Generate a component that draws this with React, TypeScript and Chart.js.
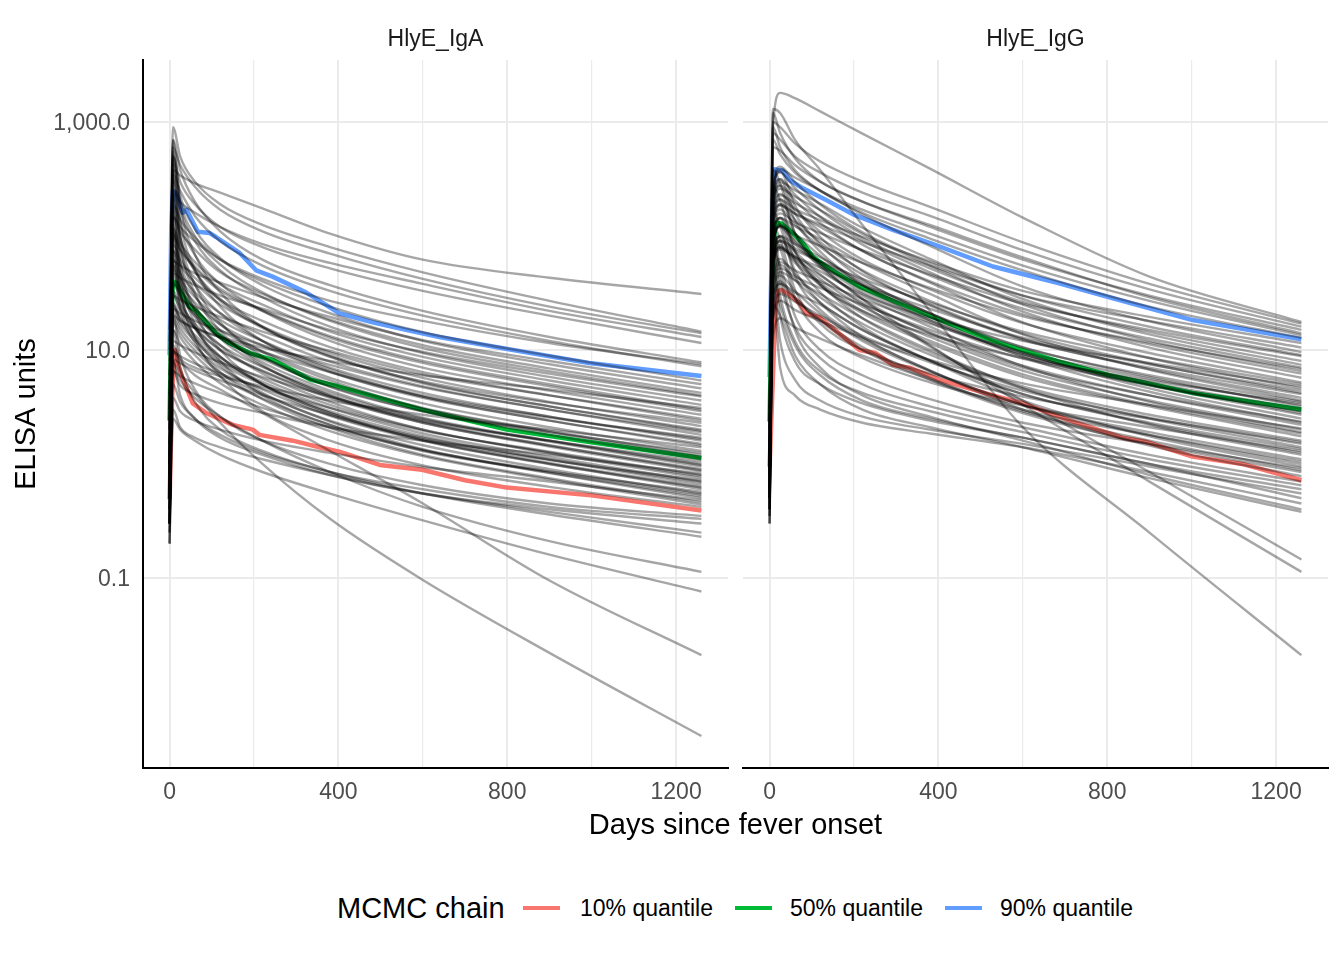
import React, { useEffect, useRef } from 'react';
import { Chart, registerables } from 'chart.js';

Chart.register(...registerables);

const FONT = '"Liberation Sans", Arial, Helvetica, sans-serif';

const PANELS = ['HlyE_IgA', 'HlyE_IgG'];
const LEGEND_TITLE = 'MCMC chain';
const QUANTILE_LABELS = ['10% quantile', '50% quantile', '90% quantile'];
const QUANTILE_COLORS = ['#F8766D', '#00BA38', '#619CFF'];

const X_BREAKS = [0, 200, 400, 600, 800, 1000, 1200];
const X_LABELLED = [0, 400, 800, 1200];
const Y_TICKS = [0.1, 10, 1000];
const Y_TICK_LABELS = ['0.1', '10.0', '1,000.0'];

const GRID_DAYS = [0, 8, 25, 60, 120, 220, 380, 600, 900, 1260];

// HlyE_IgA sample curves (values at GRID_DAYS)
const IGA_CURVES = [
  [0.8, 380, 340, 290, 240, 175, 105, 62, 43, 31],
  [1.5, 900, 500, 300, 190, 125, 80, 48, 27, 14.5],
  [0.6, 600, 420, 270, 170, 110, 70, 42, 24, 14],
  [2, 250, 200, 160, 120, 85, 58, 38, 22, 13],
  [1, 500, 300, 190, 120, 80, 52, 33, 20, 11.5],
  [3, 700, 380, 200, 110, 62, 37, 22, 13, 7.8],
  [0.5, 150, 120, 90, 62, 42, 27, 18, 11.5, 7.5],
  [1.2, 350, 250, 150, 90, 55, 33, 20, 12, 7.2],
  [2, 189, 140, 97, 62, 40, 24, 14.3, 8.9, 5.4],
  [1, 60, 55, 47, 39, 29, 19.5, 12.2, 8, 5],
  [0.8, 550, 230, 115, 64, 37, 21, 12, 7.5, 4.6],
  [3, 147, 109, 76, 48, 31, 18.5, 11, 6.9, 4.2],
  [1, 480, 200, 100, 56, 32, 18, 10.4, 6.5, 4.0],
  [6, 47, 43, 37, 30, 23, 15, 9.6, 6.2, 3.9],
  [1.5, 430, 180, 90, 50, 29, 16, 9.4, 5.8, 3.6],
  [0.6, 115, 86, 59, 38, 25, 14.5, 8.7, 5.4, 3.3],
  [0.3, 25, 18.6, 15.5, 13, 10.5, 8, 6, 4.5, 3.1],
  [2.5, 105, 78, 54, 34.5, 22.5, 13.2, 8, 5, 3.0],
  [5, 100, 75, 52, 33, 22, 12.8, 7.7, 4.8, 2.9],
  [12, 325, 135, 68, 38, 22, 12, 7, 4.4, 2.7],
  [0.5, 30, 27.5, 24, 19.5, 14.5, 9.8, 6.1, 4, 2.5],
  [0.8, 84, 62, 43, 27.6, 18, 10.6, 6.4, 4, 2.4],
  [2, 690, 184, 69, 32, 16, 8.7, 5.3, 3.45, 2.3],
  [0.7, 75, 56, 39, 25, 16, 9.5, 5.7, 3.5, 2.15],
  [4, 240, 100, 50, 28, 16, 9, 5.2, 3.2, 2],
  [1.5, 234, 98, 49, 27, 15.6, 8.8, 5.1, 3.2, 1.95],
  [0.3, 23, 21, 18, 14.8, 11, 7.4, 4.7, 3, 1.9],
  [10, 63, 47, 32, 21, 13.5, 7.9, 4.8, 3, 1.8],
  [0.5, 510, 136, 51, 24, 12, 6.5, 3.9, 2.55, 1.7],
  [0.4, 20, 18, 15.7, 12.9, 9.6, 6.4, 4, 2.6, 1.65],
  [1, 56, 42, 29, 18.4, 12, 7, 4.2, 2.6, 1.6],
  [3, 180, 75, 37.5, 21, 12, 6.8, 3.9, 2.4, 1.5],
  [6, 51, 38, 26, 16.7, 10.9, 6.4, 3.8, 2.4, 1.45],
  [0.25, 11, 8.4, 7, 5.9, 4.8, 3.6, 2.7, 2, 1.4],
  [0.8, 45, 34, 23, 15, 9.8, 5.7, 3.4, 2.1, 1.3],
  [0.9, 375, 100, 37.5, 17.5, 8.8, 4.75, 2.9, 1.9, 1.25],
  [8, 144, 60, 30, 16.8, 9.6, 5.4, 3.1, 1.95, 1.2],
  [0.5, 40, 30, 20.7, 13.2, 8.6, 5.1, 3.05, 1.9, 1.15],
  [0.5, 38, 29, 20, 12.7, 8.3, 4.8, 2.9, 1.8, 1.1],
  [1, 315, 84, 31.5, 14.7, 7.4, 4, 2.4, 1.6, 1.05],
  [0.3, 12, 11, 9.5, 7.8, 5.8, 3.9, 2.45, 1.6, 1],
  [2, 118, 49, 24.5, 13.7, 7.8, 4.4, 2.55, 1.6, 0.98],
  [4, 33, 25, 17, 11, 7.1, 4.2, 2.5, 1.57, 0.95],
  [0.6, 108, 45, 22.5, 12.6, 7.2, 4, 2.35, 1.46, 0.9],
  [0.4, 31, 23, 15.8, 10.1, 6.6, 3.9, 2.3, 1.45, 0.88],
  [1.5, 30, 22.4, 15.5, 9.9, 6.5, 3.8, 2.3, 1.42, 0.86],
  [0.2, 6.6, 4.9, 4.1, 3.4, 2.8, 2.1, 1.6, 1.2, 0.82],
  [0.3, 9.6, 8.8, 7.6, 6.2, 4.6, 3.1, 1.96, 1.28, 0.8],
  [0.9, 94, 39, 19.5, 11, 6.2, 3.5, 2, 1.26, 0.78],
  [0.4, 26, 19.5, 13.5, 8.6, 5.6, 3.3, 2, 1.24, 0.75],
  [15, 216, 58, 21.6, 10, 5, 2.7, 1.66, 1.08, 0.72],
  [1, 24.5, 18.2, 12.6, 8, 5.25, 3.1, 1.85, 1.15, 0.7],
  [0.3, 8.3, 7.6, 6.6, 5.4, 4, 2.7, 1.7, 1.1, 0.69],
  [0.7, 23, 17, 12, 7.6, 5, 2.9, 1.75, 1.09, 0.66],
  [0.5, 76, 31.5, 15.8, 8.8, 5, 2.8, 1.64, 1.02, 0.63],
  [0.6, 74, 31, 15.5, 8.7, 5, 2.8, 1.6, 1, 0.62],
  [1.2, 21, 15.6, 10.8, 6.9, 4.5, 2.64, 1.6, 1, 0.6],
  [0.6, 171, 46, 17, 8, 4, 2.2, 1.3, 0.86, 0.57],
  [0.3, 19, 14.3, 9.9, 6.3, 4.1, 2.4, 1.46, 0.9, 0.55],
  [0.25, 6.5, 5.9, 5.1, 4.2, 3.1, 2.1, 1.32, 0.86, 0.54],
  [0.8, 62, 26, 13, 7.3, 4.2, 2.35, 1.35, 0.84, 0.52],
  [0.3, 17.5, 13, 9, 5.8, 3.75, 2.2, 1.33, 0.83, 0.5],
  [0.2, 3.8, 2.9, 2.4, 2, 1.6, 1.25, 0.94, 0.7, 0.48],
  [0.5, 55, 23, 11.5, 6.4, 3.7, 2.07, 1.2, 0.75, 0.46],
  [0.35, 15, 11.4, 7.9, 5.1, 3.3, 1.94, 1.17, 0.73, 0.44],
  [0.4, 126, 34, 12.6, 5.9, 2.9, 1.6, 0.97, 0.63, 0.42],
  [0.3, 10, 6.5, 4.2, 2.3, 1, 0.33, 0.096, 0.022, 0.0041],
  [0.5, 10, 8, 6, 4.5, 2.8, 1.3, 0.45, 0.095, 0.021],
  [0.4, 8, 5.5, 3.8, 2.6, 1.6, 0.85, 0.42, 0.21, 0.113],
  [0.3, 2.5, 2, 1.6, 1.2, 0.85, 0.55, 0.32, 0.16, 0.076],
  [0.3, 3, 2.1, 1.7, 1.4, 1.1, 0.8, 0.55, 0.38, 0.25],
  [0.4, 8, 4, 2.5, 1.7, 1.2, 0.8, 0.55, 0.4, 0.3],
  [0.2, 15, 7, 3.5, 2, 1.3, 0.85, 0.6, 0.42, 0.33],
  [0.5, 5, 3.5, 2.5, 1.8, 1.25, 0.85, 0.55, 0.36, 0.23],
  [0.3, 20, 9, 4.5, 2.6, 1.6, 1, 0.65, 0.45, 0.35],
];

// HlyE_IgG sample curves (values at GRID_DAYS)
const IGG_CURVES = [
  [1, 900, 1800, 1620, 1240, 790, 390, 145, 44, 17.6],
  [0.3, 1300, 1200, 700, 380, 125, 22, 2.1, 0.25, 0.021],
  [2, 1000, 900, 650, 450, 300, 180, 88, 38, 17],
  [1, 800, 700, 500, 360, 240, 150, 75, 34, 16],
  [0.5, 1200, 800, 480, 300, 200, 120, 62, 30, 15],
  [3, 600, 560, 420, 300, 200, 125, 65, 29, 14],
  [1.5, 700, 520, 360, 250, 170, 105, 55, 27, 13.5],
  [0.8, 900, 600, 380, 250, 160, 95, 50, 24, 12.8],
  [3, 138, 207, 172, 138, 98, 60, 33, 19.5, 11.5],
  [1, 126, 190, 158, 126, 89, 55, 30, 18, 10.5],
  [2, 240, 384, 326, 250, 154, 82, 36, 17.8, 9.6],
  [2, 270, 405, 297, 189, 108, 58, 30, 16, 9.0],
  [0.6, 106, 158, 132, 106, 75, 46, 25.5, 15, 8.8],
  [4, 240, 360, 264, 168, 96, 52, 26.4, 14.4, 8],
  [1.2, 185, 296, 252, 192, 118, 63, 28, 13.7, 7.4],
  [1, 210, 315, 231, 147, 84, 45, 23, 12.6, 7],
  [0.8, 82, 122, 102, 82, 58, 35, 19.7, 11.6, 6.8],
  [1, 162, 260, 221, 169, 104, 55, 25, 12, 6.5],
  [1.5, 186, 279, 205, 130, 74, 40, 20.5, 11.2, 6.2],
  [0.5, 142, 228, 194, 148, 91, 48, 21.7, 10.5, 5.7],
  [3, 156, 234, 172, 109, 62, 34, 17.2, 9.4, 5.2],
  [0.7, 60, 90, 75, 60, 42, 26, 14.5, 8.5, 5.0],
  [1, 384, 288, 106, 53, 31, 19.2, 12, 7.7, 4.8],
  [2.5, 115, 184, 156, 120, 74, 39, 17.5, 8.5, 4.6],
  [0.7, 53, 79, 66, 53, 37, 23, 12.8, 7.5, 4.4],
  [1.5, 126, 189, 139, 88, 50, 27, 13.9, 7.6, 4.2],
  [2, 246, 369, 185, 98, 49, 24.6, 12.3, 7, 4.1],
  [1, 114, 171, 125, 80, 46, 25, 12.5, 6.8, 3.8],
  [0.9, 90, 144, 122, 94, 58, 31, 13.7, 6.7, 3.6],
  [0.9, 210, 315, 158, 84, 42, 21, 10.5, 6, 3.5],
  [1.5, 272, 204, 75, 37, 22, 13.6, 8.5, 5.4, 3.4],
  [0.6, 40, 59, 50, 40, 28, 17, 9.6, 5.6, 3.3],
  [0.6, 96, 144, 106, 67, 38, 21, 10.6, 5.8, 3.2],
  [1.2, 183, 275, 137, 73, 37, 18.3, 9.2, 5.2, 3.05],
  [0.5, 35, 52, 44, 35, 25, 15, 8.4, 4.9, 2.9],
  [0.5, 84, 126, 92, 59, 34, 18.2, 9.2, 5, 2.8],
  [2, 81, 122, 89, 57, 32, 17.5, 8.9, 4.9, 2.7],
  [0.8, 62, 100, 85, 65, 40, 21, 9.5, 4.6, 2.5],
  [1, 141, 212, 106, 56, 28, 14, 7, 4, 2.35],
  [1.2, 58, 92, 78, 60, 37, 19.5, 8.7, 4.3, 2.3],
  [0.5, 66, 99, 73, 46, 26, 14.3, 7.3, 4, 2.2],
  [0.7, 164, 123, 45, 22.5, 13.3, 8.2, 5.1, 3.3, 2.05],
  [1.3, 60, 90, 66, 42, 24, 13, 6.6, 3.6, 2],
  [1.5, 48, 76, 65, 49, 30, 16, 7.2, 3.5, 1.9],
  [0.6, 55, 83, 61, 39, 22, 12, 6.1, 3.3, 1.85],
  [0.6, 52, 79, 58, 37, 21, 11.4, 5.8, 3.2, 1.75],
  [0.9, 96, 144, 72, 38, 19, 9.6, 4.8, 2.7, 1.6],
  [0.8, 124, 93, 34, 17, 10, 6.2, 3.9, 2.5, 1.55],
  [0.4, 18, 27, 22.5, 18, 12.8, 7.8, 4.4, 2.55, 1.5],
  [2, 42, 63, 46, 29, 17, 9.1, 4.6, 2.5, 1.4],
  [0.7, 81, 122, 61, 32, 16, 8.1, 4.1, 2.3, 1.35],
  [0.5, 104, 78, 29, 14.3, 8.5, 5.2, 3.25, 2.1, 1.3],
  [0.4, 37.5, 56, 41, 26, 15, 8.1, 4.1, 2.25, 1.25],
  [0.7, 30, 48, 41, 31, 19, 10, 4.6, 2.2, 1.2],
  [1, 66, 99, 50, 26, 13, 6.6, 3.3, 1.9, 1.1],
  [0.5, 12.6, 19, 15.8, 12.6, 8.9, 5.5, 3, 1.8, 1.05],
  [0.4, 30, 45, 33, 21, 12, 6.5, 3.3, 1.8, 1],
  [0.5, 24, 38, 32, 25, 15, 8, 3.6, 1.75, 0.95],
  [0.8, 74, 55, 20, 10, 6, 3.7, 2.3, 1.5, 0.92],
  [0.6, 26, 40, 29, 18.5, 10.6, 5.7, 2.9, 1.6, 0.88],
  [0.5, 26, 38, 28, 18, 10, 5.5, 2.8, 1.5, 0.85],
  [0.35, 19.5, 31, 26.5, 20, 12.5, 6.6, 3, 1.45, 0.78],
  [0.4, 40, 12, 5.5, 3.6, 2.6, 2, 1.5, 0.95, 0.55],
  [0.5, 60, 20, 8, 5, 3.4, 2.4, 1.7, 1, 0.6],
  [0.35, 30, 7, 4, 3, 2.3, 1.85, 1.4, 0.85, 0.45],
  [0.6, 80, 30, 12, 6.5, 4.2, 2.9, 1.9, 1.1, 0.65],
  [0.4, 50, 25, 11, 6, 3.6, 2.5, 1.7, 1, 0.5],
  [0.3, 100, 40, 16, 8.5, 5, 3.2, 2.1, 1.2, 0.7],
  [0.5, 60, 80, 63, 45, 25, 10.7, 3.6, 0.85, 0.145],
  [0.4, 90, 120, 85, 55, 28, 11, 3.3, 0.7, 0.113],
  [0.3, 25, 20, 9, 5, 3, 2.1, 1.4, 0.75, 0.38],
  [0.45, 120, 50, 15, 7, 4, 2.6, 1.6, 0.8, 0.4],
];

// quantile lines across the chain
const IGA_Q10_DAYS = [0, 6, 12, 20, 32, 55, 87, 150, 197, 213, 292, 355, 402, 498, 598, 700, 799, 999, 1260];
const IGA_Q10 = [0.49, 4, 10, 7.5, 5.5, 3.4, 2.8, 2.2, 2.0, 1.8, 1.6, 1.4, 1.28, 0.98, 0.89, 0.72, 0.62, 0.53, 0.39];
const IGA_Q50_DAYS = [0, 4, 8, 16, 30, 47, 63, 110, 142, 190, 244, 333, 399, 598, 799, 999, 1260];
const IGA_Q50 = [2.4, 18, 40, 38.6, 31, 24, 22, 14, 11.5, 9.4, 8.2, 5.5, 4.8, 3.0, 2.0, 1.55, 1.13];
const IGA_Q90_DAYS = [0, 4, 8, 16, 31, 40, 67, 95, 110, 166, 205, 244, 323, 402, 481, 560, 639, 800, 994, 1260];
const IGA_Q90 = [9, 120, 250, 237, 160, 170, 109, 106, 98, 71, 50, 44, 32, 21, 17.5, 15, 13, 10.2, 7.7, 5.9];

const IGG_Q10_DAYS = [0, 8, 14, 20, 28, 42, 55, 71, 87, 118, 173, 213, 252, 292, 331, 402, 529, 600, 686, 726, 836, 891, 1002, 1120, 1260];
const IGG_Q10 = [0.95, 6, 24, 33, 33.6, 31.5, 29, 25.7, 21, 19.3, 13.2, 10, 9.35, 7.4, 7.0, 5.5, 4.0, 3.4, 2.6, 2.3, 1.7, 1.57, 1.16, 1.0, 0.72];
const IGG_Q50_DAYS = [0, 6, 12, 16, 28, 55, 79, 102, 134, 173, 213, 292, 402, 529, 686, 805, 1002, 1260];
const IGG_Q50 = [2.35, 40, 110, 131, 129, 106, 86, 66, 54, 44, 36, 27, 18.4, 12, 7.9, 6.0, 4.2, 3.0];
const IGG_Q90_DAYS = [0, 6, 12, 20, 31, 47, 79, 134, 201, 292, 402, 529, 686, 805, 1002, 1260];
const IGG_Q90 = [5.8, 150, 385, 380, 375, 310, 262, 207, 153, 113, 81, 54, 38.5, 29, 18.3, 12.4];

const PANEL_CURVES = [IGA_CURVES, IGG_CURVES];
const PANEL_QUANTILES = [
  [[IGA_Q10_DAYS, IGA_Q10], [IGA_Q50_DAYS, IGA_Q50], [IGA_Q90_DAYS, IGA_Q90]],
  [[IGG_Q10_DAYS, IGG_Q10], [IGG_Q50_DAYS, IGG_Q50], [IGG_Q90_DAYS, IGG_Q90]],
];

const X_MIN = -63;
const X_MAX = 1323;
const Y_MIN = 0.00215;
const Y_MAX = 3500;

const CANVAS_H = 810;

function Panel({ index }: { index: number }) {
  const canvasRef = useRef<HTMLCanvasElement | null>(null);
  const isLeft = index === 0;
  const width = isLeft ? 736 : 600;
  const left = isLeft ? 0 : 736;

  useEffect(() => {
    const canvas = canvasRef.current;
    if (!canvas) return;

    const gray = PANEL_CURVES[index].map(curve => ({
      data: GRID_DAYS.map((d, i) => ({ x: d, y: curve[i] })),
      borderColor: 'rgba(0,0,0,0.35)',
      borderWidth: 2.4,
      cubicInterpolationMode: 'monotone' as const,
      pointRadius: 0,
      fill: false,
    }));
    const quant = PANEL_QUANTILES[index].map(([days, vals], q) => ({
      data: days.map((d, i) => ({ x: d, y: vals[i] })),
      borderColor: QUANTILE_COLORS[q],
      borderWidth: 4.5,
      borderJoinStyle: 'round' as const,
      tension: 0,
      pointRadius: 0,
      fill: false,
    }));

    const chart = new Chart(canvas, {
      type: 'line',
      data: { datasets: [...gray, ...quant] },
      options: {
        responsive: false,
        animation: false,
        events: [],
        layout: { padding: { top: 60, right: 8, left: 0, bottom: 0 } },
        plugins: {
          legend: { display: false },
          tooltip: { enabled: false },
        },
        scales: {
          x: {
            type: 'linear',
            min: X_MIN,
            max: X_MAX,
            bounds: 'data',
            afterBuildTicks: (s: any) => {
              s.ticks = X_BREAKS.map(v => ({ value: v }));
            },
            afterFit: (s: any) => {
              s.height = CANVAS_H - 768;
            },
            grid: {
              color: '#ebebeb',
              lineWidth: (c: any) => (c.tick && X_LABELLED.includes(c.tick.value) ? 2 : 1.2),
              drawTicks: false,
            },
            border: { display: true, color: '#000000', width: 2 },
            ticks: {
              autoSkip: false,
              maxRotation: 0,
              padding: 11,
              color: '#4d4d4d',
              font: { family: FONT, size: 23 },
              callback: (v: any) => (X_LABELLED.includes(Number(v)) ? String(v) : ''),
            },
          },
          y: {
            type: 'logarithmic',
            min: Y_MIN,
            max: Y_MAX,
            bounds: 'data',
            afterBuildTicks: (s: any) => {
              s.ticks = Y_TICKS.map(v => ({ value: v }));
            },
            afterFit: (s: any) => {
              s.width = isLeft ? 143 : 7;
            },
            grid: { color: '#ebebeb', lineWidth: 2, drawTicks: false },
            border: { display: isLeft, color: '#000000', width: 2 },
            ticks: {
              display: isLeft,
              padding: 13,
              labelOffset: 2,
              color: '#4d4d4d',
              font: { family: FONT, size: 23 },
              callback: (v: any) => {
                const k = Y_TICKS.indexOf(Number(v));
                return k >= 0 ? Y_TICK_LABELS[k] : '';
              },
            },
            title: {
              display: isLeft,
              text: 'ELISA units',
              color: '#000000',
              font: { family: FONT, size: 29 },
              padding: { top: 10, bottom: 0 },
            },
          },
        },
      } as any,
    });

    return () => {
      chart.destroy();
    };
  }, [index]);

  return (
    <canvas
      ref={canvasRef}
      width={width}
      height={CANVAS_H}
      style={{ position: 'absolute', left, top: 0, width, height: CANVAS_H }}
    />
  );
}

const textBase: React.CSSProperties = {
  position: 'absolute',
  fontFamily: FONT,
  whiteSpace: 'nowrap',
};

export default function App() {
  const keyLefts = [523, 735, 945];
  const labelLefts = [580, 790, 1000];
  return (
    <div
      style={{
        position: 'absolute',
        left: 0,
        top: 0,
        width: 1344,
        height: 960,
        background: '#ffffff',
        overflow: 'hidden',
      }}
    >
      <Panel index={0} />
      <Panel index={1} />
      {PANELS.map((p, i) => (
        <div
          key={p}
          style={{
            ...textBase,
            left: i === 0 ? 143 : 743,
            width: 585,
            top: 24,
            height: 28,
            lineHeight: '28px',
            fontSize: 23,
            textAlign: 'center',
            color: '#1a1a1a',
          }}
        >
          {p}
        </div>
      ))}
      <div
        style={{
          ...textBase,
          left: 143,
          width: 1185,
          top: 807,
          lineHeight: '34px',
          fontSize: 29,
          textAlign: 'center',
          color: '#000000',
        }}
      >
        Days since fever onset
      </div>
      <div style={{ ...textBase, left: 337, top: 891, lineHeight: '34px', fontSize: 29, color: '#000000' }}>
        {LEGEND_TITLE}
      </div>
      {QUANTILE_LABELS.map((lab, i) => (
        <React.Fragment key={lab}>
          <div
            style={{
              position: 'absolute',
              left: keyLefts[i],
              top: 906,
              width: 37,
              height: 4,
              background: QUANTILE_COLORS[i],
            }}
          />
          <div
            style={{
              ...textBase,
              left: labelLefts[i],
              top: 894,
              lineHeight: '28px',
              fontSize: 23,
              color: '#000000',
            }}
          >
            {lab}
          </div>
        </React.Fragment>
      ))}
    </div>
  );
}
